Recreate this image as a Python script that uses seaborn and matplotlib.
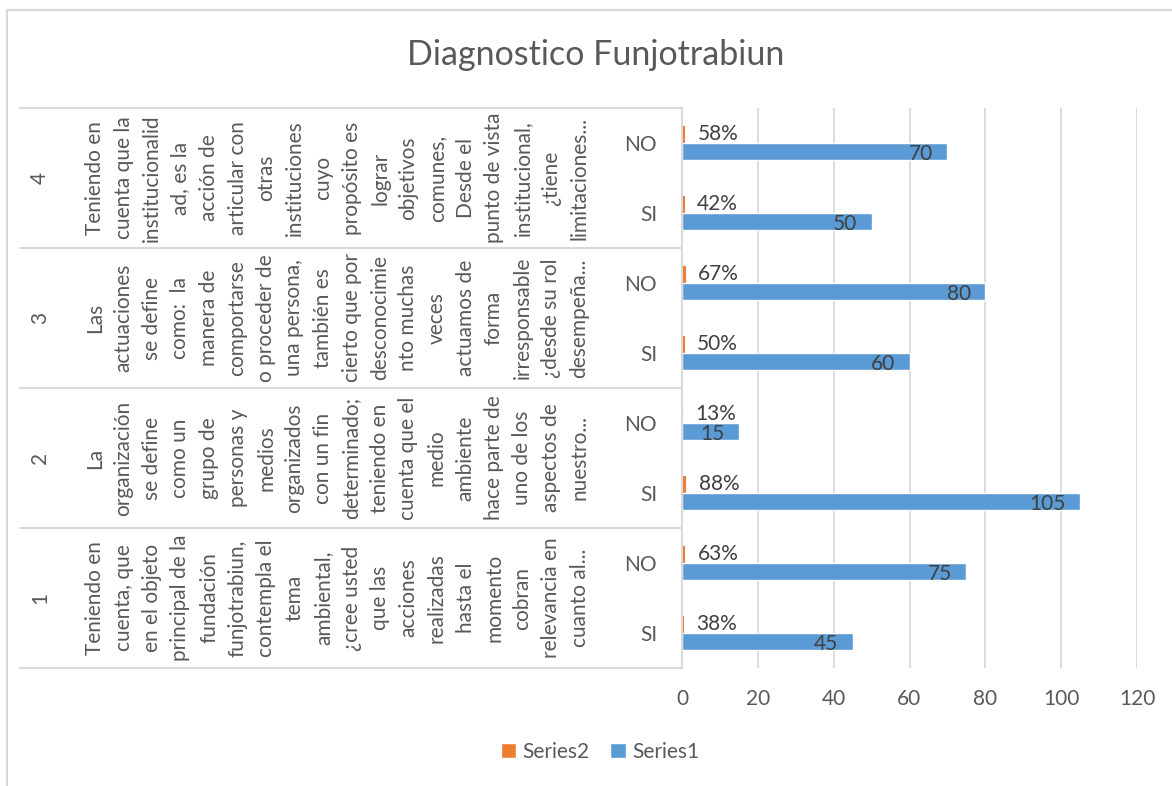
import numpy as np
import pandas as pd
import matplotlib
matplotlib.use("Agg")
import matplotlib.pyplot as plt
import seaborn as sns
from matplotlib.transforms import blended_transform_factory
from matplotlib.patches import Patch
from matplotlib.lines import Line2D
from matplotlib.colors import to_rgba

# ---------------- data (top to bottom) ----------------
groups = ["4", "3", "2", "1"]
answers = ["NO", "SI"]
series1 = [70, 50, 80, 60, 15, 105, 75, 45]
series2 = [0.58, 0.42, 0.67, 0.50, 0.13, 0.88, 0.63, 0.38]

q4_lines = ["Teniendo en", "cuenta que la", "institucionalid", "ad, es la", "acción de",
            "articular con", "otras", "instituciones", "cuyo", "propósito es", "lograr",
            "objetivos", "comunes,", "Desde el", "punto de vista", "institucional,",
            "¿tiene", "limitaciones..."]
q3_lines = ["Las", "actuaciones", "se define", "como:  la", "manera de", "comportarse",
            "o proceder de", "una persona,", "también es", "cierto que por", "desconocimie",
            "nto muchas", "veces", "actuamos de", "forma", "irresponsable", "¿desde su rol",
            "desempeña..."]
q2_lines = ["La", "organización", "se define", "como un", "grupo de", "personas y", "medios",
            "organizados", "con un fin", "determinado;", "teniendo en", "cuenta que el",
            "medio", "ambiente", "hace parte de", "uno de los", "aspectos de", "nuestro..."]
q1_lines = ["Teniendo en", "cuenta, que", "en el objeto", "principal de la", "fundación",
            "funjotrabiun,", "contempla el", "tema", "ambiental,", "¿cree usted", "que las",
            "acciones", "realizadas", "hasta el", "momento", "cobran", "relevancia en",
            "cuanto al..."]
question_lines = [q4_lines, q3_lines, q2_lines, q1_lines]

title = "Diagnostico Funjotrabiun"
xticks = [0, 20, 40, 60, 80, 100, 120]

# ---------------- build table ----------------
cats = [f"{g}-{a}" for g in groups for a in answers]
ans_labels = [a for g in groups for a in answers]
df = pd.DataFrame({
    "cat": cats * 2,
    "value": series1 + series2,
    "series": ["Series1"] * len(cats) + ["Series2"] * len(cats),
})

C1 = "#5B9BD5"
C2 = "#ED7D31"
GRID = "#D9D9D9"
TXT = "#595959"
LBL = "#404040"
FS = 15

sns.set_style("white")
plt.rcParams["font.family"] = ["Lato", "DejaVu Sans"]

W, H = 1172, 786
fig = plt.figure(figsize=(W / 100, H / 100), dpi=100)
ax = fig.add_axes([682 / W, 1 - 668 / H, (1137 - 682) / W, (668 - 108) / H])

sns.barplot(data=df, x="value", y="cat", hue="series", order=cats,
            hue_order=["Series2", "Series1"], palette={"Series1": C1, "Series2": C2},
            width=0.49, saturation=1, orient="h", ax=ax, legend=False)

ax.set_xlim(0, 120)
ax.set_ylim(len(cats) - 0.5, -0.5)
ax.set_xticks(xticks)
ax.set_xticklabels([str(t) for t in xticks])
ax.set_yticks(range(len(cats)))
ax.set_yticklabels(ans_labels)
ax.set_xlabel("")
ax.set_ylabel("")
ax.tick_params(axis="x", length=0, pad=15, labelsize=FS, labelcolor=TXT)
ax.tick_params(axis="y", length=0, pad=18, labelsize=FS, labelcolor=TXT)
ax.grid(axis="x", color=GRID, lw=1.3)
ax.grid(axis="y", visible=False)
ax.set_axisbelow(True)
for s in ["top", "right", "bottom"]:
    ax.spines[s].set_visible(False)
ax.spines["left"].set_color(GRID)
ax.spines["left"].set_linewidth(1.5)

# ---------------- data labels ----------------
for p in ax.patches:
    fc = p.get_facecolor()
    if p.get_height() == 0:
        continue
    yc = p.get_y() + p.get_height() / 2
    idx = int(round(yc))
    if np.allclose(fc, to_rgba(C1)):
        ax.annotate(f"{series1[idx]:g}", xy=(p.get_width(), yc), xytext=(-10.5, -1.5),
                    textcoords="offset points", ha="right", va="center",
                    fontsize=FS, color=LBL)
    elif np.allclose(fc, to_rgba(C2)):
        p.set_edgecolor(C2)
        p.set_linewidth(0.8)
        ax.annotate(f"{series2[idx]:.0%}", xy=(p.get_width(), yc), xytext=(9.5, 0),
                    textcoords="offset points", ha="left", va="center",
                    fontsize=FS, color=LBL)

# ---------------- multi-level category axis ----------------
tr = blended_transform_factory(fig.transFigure, ax.transData)
for b in [-0.5, 1.5, 3.5, 5.5, 7.5]:
    ax.add_line(Line2D([20 / W, 682 / W], [b, b], transform=tr, color=GRID,
                       lw=1.5, clip_on=False))

for gi, g in enumerate(groups):
    yc = gi * 2 + 0.5
    ax.text(40 / W, yc, g, transform=tr, rotation=90, ha="center", va="center",
            fontsize=FS, color=TXT, clip_on=False)
    for li, line in enumerate(question_lines[gi]):
        ax.text((95 + li * 28.5) / W, yc, line, transform=tr, rotation=90,
                ha="center", va="center", fontsize=15, color=TXT, clip_on=False)

# ---------------- title, legend, border ----------------
fig.text(596 / W, 1 - 55 / H, title, ha="center", va="center", fontsize=24.5, color=TXT)

handles = [Patch(facecolor=C2, label="Series2"), Patch(facecolor=C1, label="Series1")]
fig.legend(handles=handles, loc="center", bbox_to_anchor=(600 / W, 1 - 752 / H), ncol=2,
           frameon=False, fontsize=FS, handlelength=0.75, handleheight=0.75,
           handletextpad=0.3, columnspacing=1.0, labelcolor=TXT)

fig.add_artist(Line2D([7 / W, 7 / W], [0, 1 - 10 / H], transform=fig.transFigure,
                      color=GRID, lw=1.5))
fig.add_artist(Line2D([7 / W, 1], [1 - 10 / H, 1 - 10 / H], transform=fig.transFigure,
                      color=GRID, lw=1.5))

fig.savefig("out.png", dpi=100)
